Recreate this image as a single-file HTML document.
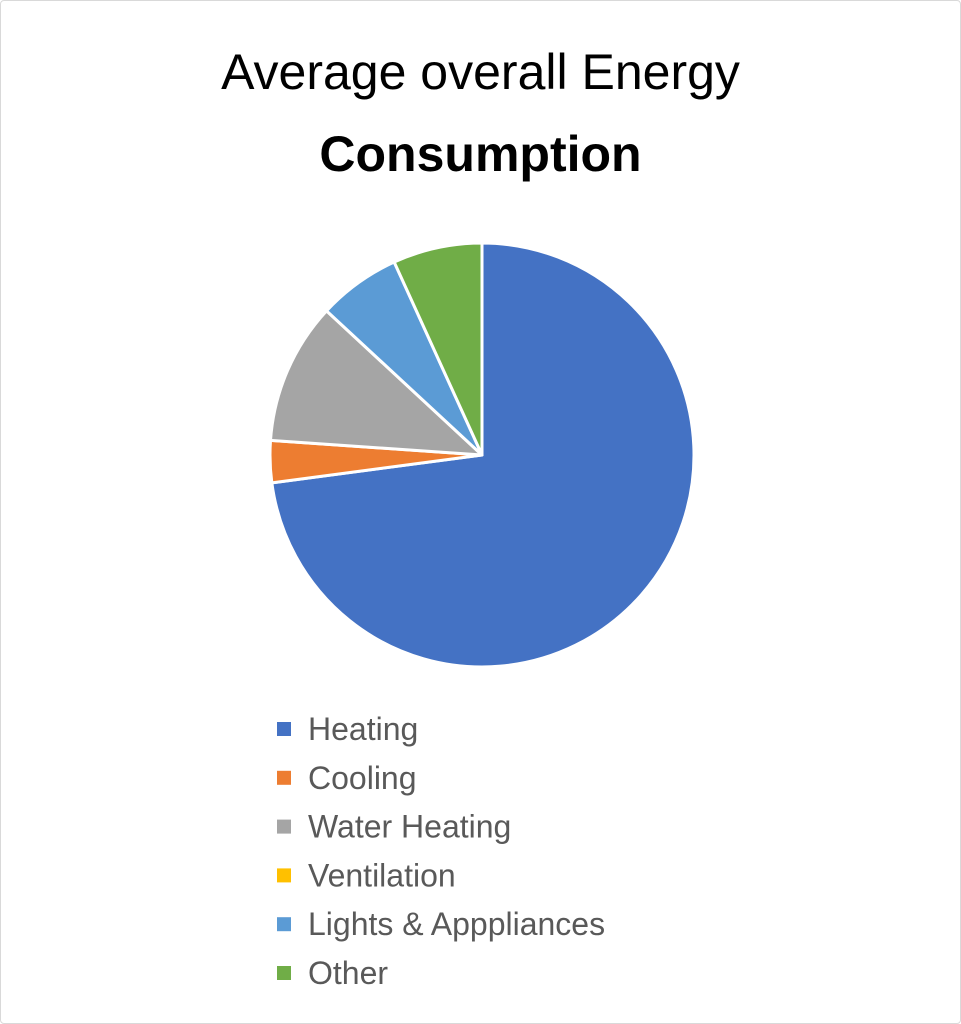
<!DOCTYPE html>
<html><head><meta charset="utf-8"><style>
html,body{margin:0;padding:0;background:#fff;}
#wrap{position:relative;width:959px;height:1022px;border:1px solid #d9d9d9;border-radius:4px;overflow:hidden;font-family:"Liberation Sans",sans-serif;}
.t{position:absolute;left:0;width:959px;text-align:center;color:#000;}
</style></head><body>
<div id="wrap">
<div class="t" style="top:42px;font-size:50px;">Average overall Energy</div>
<div class="t" style="top:124px;font-size:50px;font-weight:bold;">Consumption</div>
<svg id="svg" width="959" height="1022" style="position:absolute;left:0;top:0"></svg>
</div>
<script>
const categories=["Heating","Cooling","Water Heating","Ventilation","Lights & Appppliances","Other"];
const values=[72.9,3.2,10.8,0,6.3,6.8];
const colors=["#4472c4","#ed7d31","#a5a5a5","#ffc000","#5b9bd5","#70ad47"];
const labels=["Heating","Cooling","Water Heating","Ventilation","Lights & Apppliances","Other"];
const NS="http://www.w3.org/2000/svg";
const svg=document.getElementById('svg');
const cx=481,cy=454,r=212;
const total=values.reduce((a,b)=>a+b,0);
let a0=0;
function pt(a){return [cx+r*Math.sin(a),cy-r*Math.cos(a)];}
values.forEach((v,i)=>{
  if(v<=0)return;
  const a1=a0+v/total*2*Math.PI;
  const p0=pt(a0),p1=pt(a1);
  const large=(a1-a0)>Math.PI?1:0;
  const p=document.createElementNS(NS,'path');
  p.setAttribute('d',`M${cx},${cy}L${p0[0]},${p0[1]}A${r},${r} 0 ${large} 1 ${p1[0]},${p1[1]}Z`);
  p.setAttribute('fill',colors[i]);
  p.setAttribute('stroke','#fff');
  p.setAttribute('stroke-width','3');
  p.setAttribute('stroke-linejoin','round');
  
  
  svg.appendChild(p);
  a0=a1;
});
labels.forEach((l,i)=>{
  const y=728+i*48.8;
  const g=document.createElementNS(NS,'g');
  
  
  const s=document.createElementNS(NS,'rect');
  s.setAttribute('x',276);s.setAttribute('y',y-7);s.setAttribute('width',14);s.setAttribute('height',14);
  s.setAttribute('fill',colors[i]);
  
  
  const t=document.createElementNS(NS,'text');
  t.setAttribute('x',307);t.setAttribute('y',y+11);
  t.setAttribute('font-size','32');t.setAttribute('fill','#595959');
  t.setAttribute('font-family','"Liberation Sans",sans-serif');
  
  
  t.textContent=l;
  g.appendChild(s);g.appendChild(t);svg.appendChild(g);
});
</script>
</body></html>
